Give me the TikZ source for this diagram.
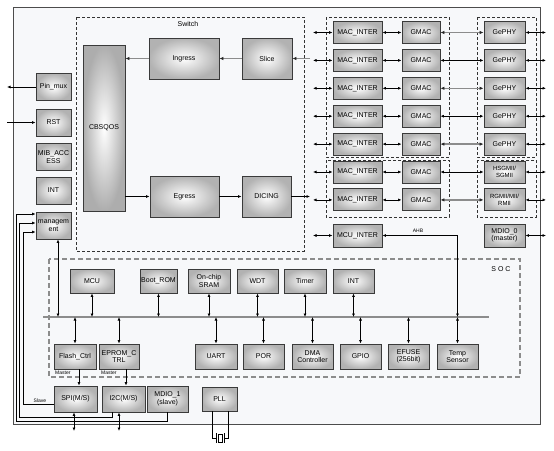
\documentclass[tikz,border=0pt]{standalone}
\usepackage{fontspec}
\setmainfont{Liberation Sans}
\usetikzlibrary{positioning, arrows.meta, calc}

\definecolor{framefill}{HTML}{F7F8FA}
\definecolor{boxline}{HTML}{3A3A3A}
\definecolor{wiregray}{HTML}{8C8C8C}

\tikzset{
  blk/.style={rectangle, draw=boxline, line width=0.9pt, inner color=white, outer color=black!30, align=center, inner sep=1pt},
  tallblk/.style={blk, outer color=black!32},
  mac/.style={blk, minimum width=49pt, minimum height=22pt},
  gmac/.style={blk, minimum width=38pt, minimum height=22pt},
  phy/.style={blk, minimum width=41pt, minimum height=22pt},
  side/.style={blk, minimum width=35pt, minimum height=27pt},
  socbox/.style={blk, minimum height=25pt},
  lbl/.style={font=\fontsize{5}{5.5}\selectfont, inner sep=1pt},
  arr/.style={-{Latex[length=3.5pt,width=3pt]}, line width=0.8pt},
  dbl/.style={{Latex[length=3.5pt,width=3pt]}-{Latex[length=3.5pt,width=3pt]}, line width=0.8pt},
  garr/.style={draw=wiregray, line width=1.6pt, -{Latex[length=4pt,width=3.5pt,color=black!85]}},
  gdbl/.style={draw=wiregray, line width=1.6pt, {Latex[length=4pt,width=3.5pt,color=black!85]}-{Latex[length=4pt,width=3.5pt,color=black!85]}},
  dbox/.style={draw=black!80, line width=0.6pt, dash pattern=on 3pt off 2pt},
  socframe/.style={draw=black!45, line width=1.3pt, dash pattern=on 5pt off 3pt},
  bus/.style={draw=wiregray, line width=1.8pt}
}

\begin{document}
\begin{tikzpicture}[x=1pt, y=-1pt, every node/.style={font=\fontsize{7}{7.5}\selectfont}]
\useasboundingbox (0,0) rectangle (554,450);

% chip outline
\draw[draw=black!70, line width=1pt, fill=framefill] (13,7) rectangle (540,424);

% switch
\draw[dbox] (76,17) rectangle (304,251);
\node (swlbl) at (188,24) {Switch};
\node[tallblk, minimum width=42pt, minimum height=166pt] (cbsqos) at (104,128) {CBSQOS};
\node[blk, minimum width=70pt, minimum height=41pt] (ingress) at (184,58.5) {Ingress};
\node[blk, minimum width=50pt, minimum height=41pt] (slice) at (267,58.5) {Slice};
\node[blk, minimum width=69pt, minimum height=41pt] (egress) at (184.5,196.5) {Egress};
\node[blk, minimum width=49pt, minimum height=41pt] (dicing) at (266.5,196.5) {DICING};

\coordinate (slin) at (310,58.5);
\coordinate (dcout) at (310,196.5);
\draw[garr] (slin) -- (slice);
\draw[garr] (slice) -- (ingress);
\draw[garr] (ingress.west) -- (ingress.west -| cbsqos.east);
\draw[arr] (egress.west -| cbsqos.east) -- (egress.west);
\draw[arr] (egress) -- (dicing);
\draw[arr] (dicing) -- (dcout);

% mac / gmac / phy
\draw[dbox] (326,17) rectangle (449,157);
\draw[dbox] (326,160) rectangle (449,217);
\draw[dbox] (477,17) rectangle (536,157);
\draw[dbox] (477,160) rectangle (536,217);

\foreach \i/\y in {1/32.5,2/60.4,3/88.3,4/116.2,5/144.1,6/172,7/199.9} {
  \node[mac] (mi\i) at (357.5,\y) {MAC\_INTER};
  \node[gmac] (gm\i) at (421,\y) {GMAC};
  \coordinate (ml\i) at (313,\y);
  \coordinate (pr\i) at (546,\y);
  \draw[dbl] (ml\i) -- (mi\i);
  \draw[dbl] (mi\i) -- (gm\i);
}
\foreach \i/\y in {1/32.5,2/60.4,3/88.3,4/116.2,5/144.1} {
  \node[phy] (ph\i) at (504.5,\y) {GePHY};
}
\node[phy, font=\fontsize{6}{6.8}\selectfont] (ph6) at (504.5,172) {HSGMII/\\SGMII};
\node[phy, font=\fontsize{6}{6.8}\selectfont] (ph7) at (504.5,199.9) {RGMII/MII/\\RMII};

\foreach \i in {1,3,5,7} \draw[gdbl] (gm\i) -- (ph\i);
\foreach \i in {2,4,6} \draw[dbl] (gm\i) -- (ph\i);
\foreach \i in {1,...,7} \draw[dbl] (ph\i) -- (pr\i);

\node[mac, minimum height=23pt] (mcuif) at (357.5,235.5) {MCU\_INTER};
\node[phy, minimum height=23pt] (mdio0) at (504.5,235.5) {MDIO\_0\\(master)};
\coordinate (mcl) at (313,235.5);
\coordinate (mdr) at (546,235.5);
\draw[dbl] (mcl) -- (mcuif);
\draw[dbl] (mdio0) -- (mdr);

% left column
\node[side] (pinmux) at (53.5,87) {Pin\_mux};
\node[side] (rst) at (53.5,122.5) {RST};
\node[side] (mib) at (53.5,157) {MIB\_ACC\\ESS};
\node[side] (intl) at (53.5,190.5) {INT};
\node[side] (mgmt) at (53.5,225.5) {managem\\ent};
\coordinate (pmout) at (7,87);
\coordinate (rstin) at (7,122.5);
\draw[arr] (pinmux) -- (pmout);
\draw[arr] (rstin) -- (rst);

% soc
\draw[socframe] (49,259) rectangle (520,377);
\node (soclbl) at (501,269) {S O C};
\coordinate (busL) at (43,317);
\coordinate (busR) at (489,317);
\draw[bus] (busL) -- (busR);

\node[socbox, minimum width=44pt, minimum height=24pt] (mcu) at (92,281) {MCU};
\node[socbox, minimum width=37pt, minimum height=24pt] (bootrom) at (158.5,281) {Boot\_ROM};
\node[socbox, minimum width=42pt, minimum height=24pt] (sram) at (209,281) {On-chip\\SRAM};
\node[socbox, minimum width=41pt, minimum height=24pt] (wdt) at (257.5,281) {WDT};
\node[socbox, minimum width=42pt, minimum height=24pt] (timer) at (305,281) {Timer};
\node[socbox, minimum width=41pt, minimum height=24pt] (intr) at (353.5,281) {INT};

\node[socbox, minimum width=42pt] (flash) at (75,356.5) {Flash\_Ctrl};
\node[socbox, minimum width=40pt] (eprom) at (119,356.5) {EPROM\_C\\TRL};
\node[socbox, minimum width=42pt] (uart) at (216,356.5) {UART};
\node[socbox, minimum width=41pt] (por) at (263.5,356.5) {POR};
\node[socbox, minimum width=41pt] (dma) at (312.5,356.5) {DMA\\Controller};
\node[socbox, minimum width=41pt] (gpio) at (360.5,356.5) {GPIO};
\node[socbox, minimum width=41pt] (efuse) at (408.5,356.5) {EFUSE\\(256bit)};
\node[socbox, minimum width=41pt] (temp) at (457.5,356.5) {Temp\\Sensor};

\foreach \n in {mcu,bootrom,sram,wdt,timer,intr}
  \draw[dbl] (\n.south) -- (\n.south |- busL);
\foreach \n in {flash,eprom,uart,por,dma,gpio,efuse,temp}
  \draw[dbl] (\n.north |- busL) -- (\n.north);

\coordinate (bm) at (58,317);
\draw[dbl] (mgmt.south -| bm) -- (bm);
\draw[dbl] (mcuif.east) -| (temp.north |- busL);
\node[lbl] (ahb) at (418,231) {AHB};

\node[lbl, anchor=west] (mst1) at (54,372.5) {Master};
\node[lbl, anchor=west] (mst2) at (100,372.5) {Master};

% peripherals below soc
\node[blk, minimum width=43pt, minimum height=26pt] (spi) at (75.5,399) {SPI(M/S)};
\node[blk, minimum width=43pt, minimum height=26pt] (i2c) at (123.5,399) {I2C(M/S)};
\node[blk, minimum width=41pt, minimum height=26pt] (mdio1) at (167.5,399) {MDIO\_1\\(slave)};
\node[blk, minimum width=35pt, minimum height=24pt] (pll) at (219.5,399) {PLL};

\draw[arr] ([xshift=4pt]flash.south) -- ([xshift=4pt]flash.south |- spi.north);
\draw[arr] ([xshift=7pt]eprom.south) -- ([xshift=7pt]eprom.south |- i2c.north);

\coordinate (spid) at (74,431);
\coordinate (i2cd) at (119,431);
\draw[dbl] (spi.south -| spid) -- (spid);
\draw[dbl] (i2c.south -| i2cd) -- (i2cd);

% management wires
\coordinate (wa) at (16,421);
\coordinate (wb) at (19,417);
\coordinate (wc) at (23,404);
\draw[arr] (mdio1.south) |- (wa) |- ([yshift=11.5pt]mgmt.west);
\draw[arr] ([xshift=-11.5pt]i2c.south) |- (wb) |- ([yshift=2.5pt]mgmt.west);
\draw[arr] ([yshift=-5pt]spi.west) -- (wc) |- ([yshift=-6.5pt]mgmt.west);
\node[lbl, above] (slave) at (40,404) {Slave};

% crystal
\coordinate (xl) at (216,438);
\coordinate (xr) at (224,438);
\draw[line width=0.8pt] ([xshift=-7.5pt]pll.south) |- (xl);
\draw[line width=0.8pt] ([xshift=8.5pt]pll.south) |- (xr);
\node[draw, line width=0.8pt, fill=white, minimum width=4pt, minimum height=8pt, inner sep=0pt] (xtal) at (220,438) {};
\draw[line width=0.8pt] (216,433) -- (216,443);
\draw[line width=0.8pt] (224,433) -- (224,443);
\end{tikzpicture}
\end{document}
